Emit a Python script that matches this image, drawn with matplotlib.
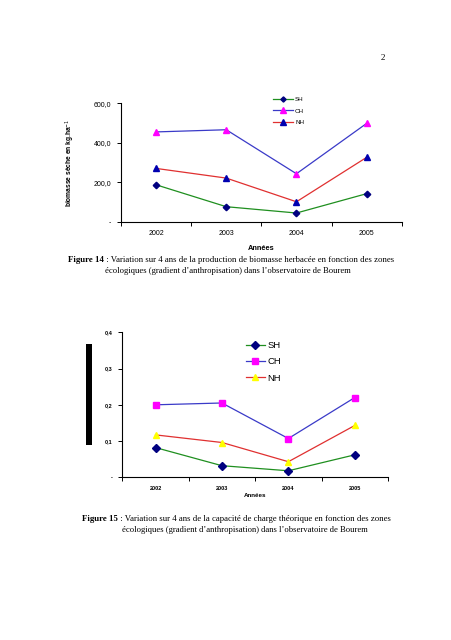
import matplotlib
matplotlib.use("Agg")
from matplotlib import pyplot as plt
from matplotlib.patches import Rectangle

years = ["2002", "2003", "2004", "2005"]

# figure 14 : biomasse (kg/ha)
bio_sh = [187, 76, 44, 142]
bio_ch = [455, 466, 243, 498]
bio_nh = [270, 221, 101, 326]
bio_ticks = [0, 200, 400, 600]
bio_ticklabels = ["-", "200,0", "400,0", "600,0"]

# figure 15 : capacite de charge
cap_sh = [0.082, 0.032, 0.018, 0.062]
cap_ch = [0.200, 0.205, 0.107, 0.220]
cap_nh = [0.117, 0.096, 0.043, 0.143]
cap_ticks = [0, 0.1, 0.2, 0.3, 0.4]
cap_ticklabels = ["-", "0,1", "0,2", "0,3", "0,4"]

W, H = 452, 640
fig = plt.figure(figsize=(W / 100, H / 100), dpi=100)
fig.patch.set_facecolor("white")


def px_axes(left, top, right, bottom):
    return fig.add_axes([left / W, 1 - bottom / H, (right - left) / W, (bottom - top) / H])


def style_axes(ax, ticks, ticklabels, ymax, fs, bold):
    x = range(len(years))
    ax.set_xlim(-0.5, len(years) - 0.5)
    ax.set_ylim(0, ymax)
    for s in ["top", "right"]:
        ax.spines[s].set_visible(False)
    for s in ["left", "bottom"]:
        ax.spines[s].set_linewidth(0.8)
    ax.set_xticks([i - 0.5 for i in range(len(years) + 1)])
    ax.set_xticklabels([])
    ax.set_xticks(list(x), minor=True)
    ax.set_xticklabels(years, minor=True, fontsize=fs, fontweight="bold" if bold else "normal",
                       family="Liberation Sans")
    ax.tick_params(axis="x", which="major", length=3, width=0.7, direction="out")
    ax.tick_params(axis="x", which="minor", length=0, pad=6)
    ax.set_yticks(ticks)
    ax.set_yticklabels(ticklabels, fontsize=fs, fontweight="bold" if bold else "normal",
                       family="Liberation Sans")
    ax.tick_params(axis="y", length=3, width=0.7, direction="out", pad=4)


# ---- figure 14
ax1 = px_axes(121, 103.3, 401.7, 221.7)
x = range(len(years))
ax1.plot(x, bio_sh, color="#1f8f1f", lw=0.9, marker="D", ms=3.3, mfc="#000080", mec="#000080", label="SH")
ax1.plot(x, bio_ch, color="#3a3ac8", lw=0.9, marker="^", ms=4.6, mfc="#ff00ff", mec="#ff00ff", label="CH")
ax1.plot(x, bio_nh, color="#e03030", lw=0.9, marker="^", ms=4.6, mfc="#0000b0", mec="#0000b0", label="NH")
style_axes(ax1, bio_ticks, bio_ticklabels, 600, 5, False)
ax1.set_ylabel("biomasse sèche en kg.ha$^{-1}$", fontsize=4.8, fontweight="bold",
               family="Liberation Sans", labelpad=12)
ax1.set_xlabel("Années", fontsize=5.3, fontweight="bold", family="Liberation Sans", labelpad=6)
leg1 = ax1.legend(loc="upper left", bbox_to_anchor=((270 - 121) / 280.7, 1.08), frameon=False,
                  prop={"family": "Liberation Sans", "size": 4.5}, handlelength=3.2,
                  handletextpad=0.3, labelspacing=0.95, borderpad=0, markerscale=0.8)

# ---- figure 15
ax2 = px_axes(122.3, 332.3, 388, 477.3)
ax2.plot(x, cap_sh, color="#1f8f1f", lw=0.9, marker="D", ms=4, mfc="#000080", mec="#000080", label="SH")
ax2.plot(x, cap_ch, color="#3a3ac8", lw=0.9, marker="s", ms=4.5, mfc="#ff00ff", mec="#ff00ff", label="CH")
ax2.plot(x, cap_nh, color="#e03030", lw=0.9, marker="^", ms=5, mfc="#ffff00", mec="#ffff00", label="NH")
style_axes(ax2, cap_ticks, cap_ticklabels, 0.4, 4, True)
ax2.set_xlabel("Années", fontsize=4.5, fontweight="bold", family="Liberation Sans", labelpad=2)
ax2.legend(loc="upper left", bbox_to_anchor=((241 - 122.3) / 265.7, 0.97), frameon=False,
           prop={"family": "Liberation Sans", "size": 6.8}, handlelength=2.0, handletextpad=0.3,
           labelspacing=0.75, borderpad=0)
fig.patches.append(Rectangle((86 / W, 1 - 445 / H), 6.3 / W, 101 / H, transform=fig.transFigure,
                             facecolor="black", edgecolor="none"))

# ---- page text
serif = "Liberation Serif"
fig.text(383 / W, 1 - 58 / H, "2", fontsize=6.5, family=serif, ha="center", va="center")


def caption(x0, y, bold, rest):
    t = fig.text(x0 / W, 1 - y / H, bold, fontsize=6.3, family=serif, fontweight="bold",
                 ha="left", va="center")
    r = fig.canvas.get_renderer()
    bb = t.get_window_extent(renderer=r)
    fig.text(bb.x1 / W, 1 - y / H, rest, fontsize=6.3, family=serif, ha="left", va="center")


def centered(xc, y, s):
    fig.text(xc / W, 1 - y / H, s, fontsize=6.2, family=serif, ha="center", va="center")


caption(68, 260, "Figure 14",
        " : Variation sur 4 ans de la production de biomasse herbacée en fonction des zones")
centered(228, 271, "écologiques (gradient d’anthropisation) dans l’observatoire de Bourem")
caption(82, 519, "Figure 15",
        " : Variation sur 4 ans de la capacité de charge théorique en fonction des zones")
centered(245, 530, "écologiques (gradient d’anthropisation) dans l’observatoire de Bourem")

fig.savefig("out.png", dpi=100, facecolor="white")
